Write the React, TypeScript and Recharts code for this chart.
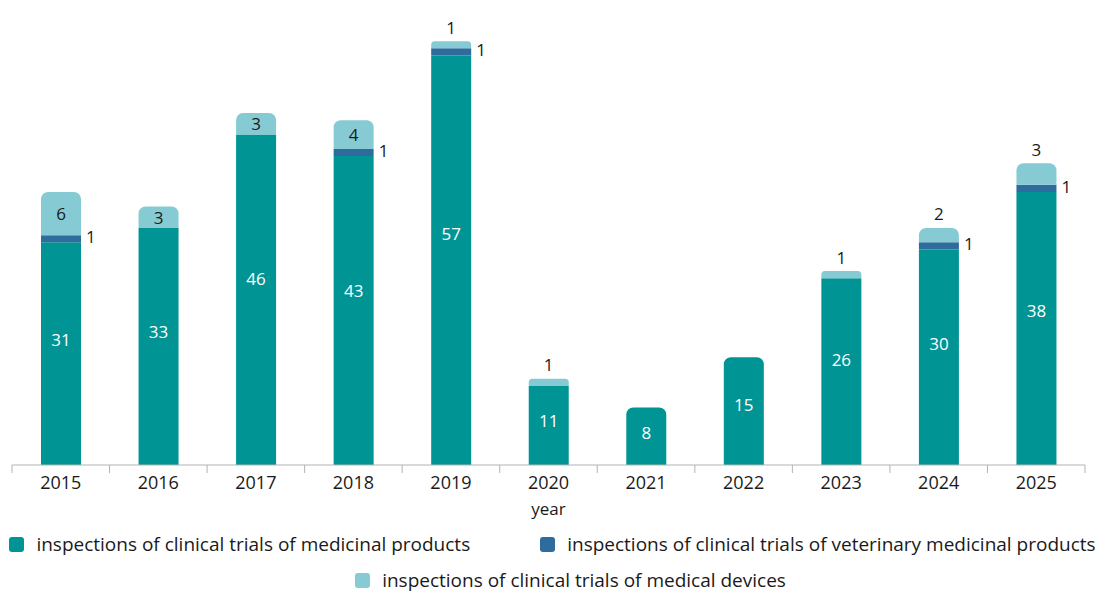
import { BarChart, Bar, XAxis, YAxis, LabelList, Rectangle } from "recharts";

const years = ["2015", "2016", "2017", "2018", "2019", "2020", "2021", "2022", "2023", "2024", "2025"];
const medicinal = [31, 33, 46, 43, 57, 11, 8, 15, 26, 30, 38];
const veterinary = [1, 0, 0, 1, 1, 0, 0, 0, 0, 1, 1];
const devices = [6, 3, 3, 4, 1, 1, 0, 0, 1, 2, 3];

const seriesNames = [
  "inspections of clinical trials of medicinal products",
  "inspections of clinical trials of veterinary medicinal products",
  "inspections of clinical trials of medical devices",
];

const TEAL = "#009494";
const DARK = "#2d6c9c";
const LIGHT = "#86cbd3";
const INK = "#1a1a1a";
const FONT = "'Open Sans', sans-serif";

const data = years.map((year, i) => ({
  year,
  medicinal: medicinal[i],
  veterinary: veterinary[i],
  devices: devices[i],
}));

// rounded top only on the highest non-empty segment
const MedicinalShape = (props: any) => {
  const top = props.payload.devices === 0 && props.payload.veterinary === 0;
  return <Rectangle {...props} radius={top ? [7, 7, 0, 0] : 0} />;
};
const DevicesShape = (props: any) => {
  if (!props.height) return null;
  return <Rectangle {...props} radius={[7, 7, 0, 0]} />;
};

const MedicinalLabel = (props: any) => {
  const { x, y, width, height, value } = props;
  if (!value) return null;
  return (
    <text x={x + width / 2} y={y + height * 0.435} textAnchor="middle" dominantBaseline="central" fill="#fff" fontSize={17}>
      {value}
    </text>
  );
};

const VetLabel = (props: any) => {
  const { x, y, width, height, value } = props;
  if (!value) return null;
  return (
    <text x={x + width + 5} y={y + height / 2 - 2} dominantBaseline="central" fill={INK} fontSize={17}>
      {value}
    </text>
  );
};

// older years have the label inside the segment, later ones above it
const DevicesLabel = (props: any) => {
  const { x, y, width, height, value, index } = props;
  if (!value) return null;
  const inside = index < 4;
  return (
    <text
      x={x + width / 2}
      y={inside ? y + height / 2 : y - 14}
      textAnchor="middle"
      dominantBaseline="central"
      fill={INK}
      fontSize={17}
    >
      {value}
    </text>
  );
};

const YearTick = (props: any) => {
  const { x, y, payload, index } = props;
  const half = payload.offset || 48.8;
  return (
    <g>
      <line x1={x - half} y1={y} x2={x - half} y2={y + 8} stroke="#b3b3b3" />
      {index === years.length - 1 && <line x1={x + half} y1={y} x2={x + half} y2={y + 8} stroke="#b3b3b3" />}
      <text x={x} y={y + 17} textAnchor="middle" dominantBaseline="central" fill={INK} fontSize={18}>
        {payload.value}
      </text>
    </g>
  );
};

const LegendItem = ({ color, text }: { color: string; text: string }) => (
  <div style={{ display: "flex", alignItems: "center" }}>
    <span style={{ width: 15, height: 15, borderRadius: 3, background: color, marginRight: 12 }} />
    <span style={{ fontSize: 19, color: INK }}>{text}</span>
  </div>
);

export default function App() {
  return (
    <div style={{ position: "absolute", left: 0, top: 0, width: 1105, height: 592, background: "#fff", fontFamily: FONT }}>
      <BarChart width={1105} height={525} data={data} margin={{ top: 34, right: 20, bottom: 0, left: 12 }} barSize={40}>
        <XAxis
          dataKey="year"
          height={60}
          tickLine={false}
          tickSize={0}
          tickMargin={0}
          axisLine={{ stroke: "#b3b3b3" }}
          tick={<YearTick />}
          interval={0}
          label={{ value: "year", position: "insideBottom", offset: 10, fill: INK, fontSize: 17 }}
        />
        <YAxis hide domain={[0, 60]} />
        <Bar dataKey="medicinal" stackId="a" fill={TEAL} shape={MedicinalShape} isAnimationActive={false}>
          <LabelList dataKey="medicinal" content={MedicinalLabel} />
        </Bar>
        <Bar dataKey="veterinary" stackId="a" fill={DARK} isAnimationActive={false}>
          <LabelList dataKey="veterinary" content={VetLabel} />
        </Bar>
        <Bar dataKey="devices" stackId="a" fill={LIGHT} shape={DevicesShape} isAnimationActive={false}>
          <LabelList dataKey="devices" content={DevicesLabel} />
        </Bar>
      </BarChart>
      <div style={{ display: "flex", justifyContent: "center", gap: 70, marginTop: 6 }}>
        <LegendItem color={TEAL} text={seriesNames[0]} />
        <LegendItem color={DARK} text={seriesNames[1]} />
      </div>
      <div style={{ display: "flex", justifyContent: "center", marginTop: 10, paddingLeft: 36 }}>
        <LegendItem color={LIGHT} text={seriesNames[2]} />
      </div>
    </div>
  );
}
